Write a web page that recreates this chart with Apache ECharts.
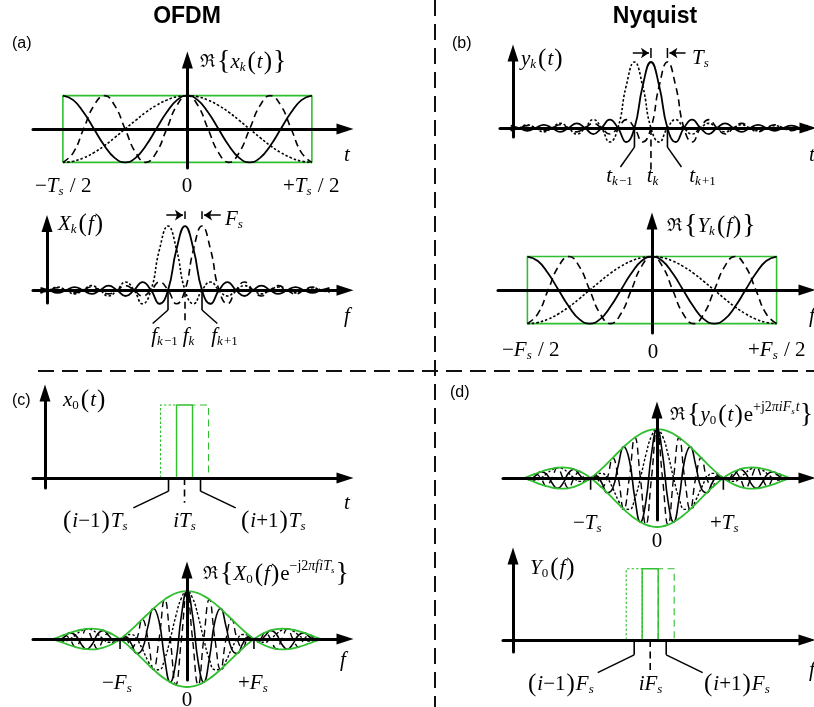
<!DOCTYPE html>
<html><head><meta charset="utf-8">
<script src="https://cdn.jsdelivr.net/npm/echarts@6.0.0/dist/echarts.min.js"></script>
<style>html,body{margin:0;padding:0;background:#fff}#c{width:814px;height:707px}</style>
</head><body><div id="c"></div>
<script>
// ---------------- DATA ----------------
// (a) top / (b) bottom : real parts over one symbol window, -1/2 .. +1/2
const cosT = [-0.5,-0.458,-0.417,-0.375,-0.333,-0.292,-0.25,-0.208,-0.167,-0.125,-0.083,-0.042,0,0.042,0.083,0.125,0.167,0.208,0.25,0.292,0.333,0.375,0.417,0.458,0.5];
const cosSlow = [-1,-0.966,-0.866,-0.707,-0.5,-0.259,0,0.259,0.5,0.707,0.866,0.966,1,0.966,0.866,0.707,0.5,0.259,0,-0.259,-0.5,-0.707,-0.866,-0.966,-1];
const cosMid  = [1,0.866,0.5,0,-0.5,-0.866,-1,-0.866,-0.5,0,0.5,0.866,1,0.866,0.5,0,-0.5,-0.866,-1,-0.866,-0.5,0,0.5,0.866,1];
const cosFast = [-1,-0.707,0,0.707,1,0.707,0,-0.707,-1,-0.707,0,0.707,1,0.707,0,-0.707,-1,-0.707,0,0.707,1,0.707,0,-0.707,-1];
const rectT = [-0.5, 0.5];
const rectAmp = [-1, 1];

// (a) bottom / (b) top : sinc pulses at k-1, k, k+1 (x in units of spacing)
const sincX = [-8.5,-8,-7.5,-7,-6.5,-6,-5.5,-5,-4.5,-4,-3.5,-3,-2.5,-2,-1.5,-1,-0.5,0,0.5,1,1.5,2,2.5,3,3.5,4,4.5,5,5.5,6,6.5,7,7.5,8,8.5,9,9.5];
const sincPrev = [-0.042,0,0.049,0,-0.058,0,0.071,0,-0.091,0,0.127,0,-0.212,0,0.637,1,0.637,0,-0.212,0,0.127,0,-0.091,0,0.071,0,-0.058,0,0.049,0,-0.042,0,0.037,0,-0.034,0,0.030];
const sincCur  = [0.037,0,-0.042,0,0.049,0,-0.058,0,0.071,0,-0.091,0,0.127,0,-0.212,0,0.637,1,0.637,0,-0.212,0,0.127,0,-0.091,0,0.071,0,-0.058,0,0.049,0,-0.042,0,0.037,0,-0.034];
const sincNext = [-0.034,0,0.037,0,-0.042,0,0.049,0,-0.058,0,0.071,0,-0.091,0,0.127,0,-0.212,0,0.637,1,0.637,0,-0.212,0,0.127,0,-0.091,0,0.071,0,-0.058,0,0.049,0,-0.042,0,0.037];
const tickCenters = [-1, 0, 1];

// (c) bottom / (d) top : envelope and modulated real parts, -2 .. +2
const envX = [-2,-1.917,-1.833,-1.75,-1.667,-1.583,-1.5,-1.417,-1.333,-1.25,-1.167,-1.083,-1,-0.917,-0.833,-0.75,-0.667,-0.583,-0.5,-0.417,-0.333,-0.25,-0.167,-0.083,0,0.083,0.167,0.25,0.333,0.417,0.5,0.583,0.667,0.75,0.833,0.917,1,1.083,1.167,1.25,1.333,1.417,1.5,1.583,1.667,1.75,1.833,1.917,2];
const envUpper = [0,-0.043,-0.087,-0.129,-0.165,-0.194,-0.212,-0.217,-0.207,-0.180,-0.136,-0.076,0,0.090,0.191,0.300,0.414,0.527,0.637,0.738,0.827,0.900,0.955,0.989,1,0.989,0.955,0.900,0.827,0.738,0.637,0.527,0.414,0.300,0.191,0.090,0,-0.076,-0.136,-0.180,-0.207,-0.217,-0.212,-0.194,-0.165,-0.129,-0.087,-0.043,0];
const envLower = [0,0.043,0.087,0.129,0.165,0.194,0.212,0.217,0.207,0.180,0.136,0.076,0,-0.090,-0.191,-0.300,-0.414,-0.527,-0.637,-0.738,-0.827,-0.900,-0.955,-0.989,-1,-0.989,-0.955,-0.900,-0.827,-0.738,-0.637,-0.527,-0.414,-0.300,-0.191,-0.090,0,0.076,0.136,0.180,0.207,0.217,0.212,0.194,0.165,0.129,0.087,0.043,0];
const carPrev = [0,-0.037,-0.043,0,0.083,0.168,0.212,0.188,0.103,0,-0.068,-0.066,0,0.078,0.096,0,-0.207,-0.456,-0.637,-0.639,-0.414,0,0.477,0.856,1,0.856,0.477,0,-0.414,-0.639,-0.637,-0.456,-0.207,0,0.096,0.078,0,-0.066,-0.068,0,0.103,0.188,0.212,0.168,0.083,0,-0.043,-0.037,0];
const carCur  = [0,-0.022,0.043,0.129,0.083,-0.097,-0.212,-0.109,0.103,0.180,0.068,-0.038,0,0.045,-0.096,-0.300,-0.207,0.264,0.637,0.369,-0.414,-0.900,-0.477,0.494,1,0.494,-0.477,-0.900,-0.414,0.369,0.637,0.264,-0.207,-0.300,-0.096,0.045,0,-0.038,0.068,0.180,0.103,-0.109,-0.212,-0.097,0.083,0.129,0.043,-0.022,0];
const carNext = [0,0,0.087,0,-0.165,0,0.212,0,-0.207,0,0.136,0,0,0,-0.191,0,0.414,0,-0.637,0,0.827,0,-0.955,0,1,0,-0.955,0,0.827,0,-0.637,0,0.414,0,-0.191,0,0,0,0.136,0,-0.207,0,0.212,0,-0.165,0,0.087,0,0];
const envTicks = [-1, 1];

// (c) top / (d) bottom : rectangular pulses
const pulseEdges = [-1.5, -0.5, 0.5, 1.5];
const pulseHeight = 1;

// ---------------- CHART ----------------
const BLACK = '#000', GREEN = '#2fbf2f';
const DOT = [2.5, 2], DASH = [7, 4.5];
const grids = [], xAxes = [], yAxes = [], series = [];
const pts = (xs, ys) => xs.map((x, i) => [x, ys[i]]);

function panel(rect, xr, yr, yOnZero, yOff) {
  const g = grids.length;
  grids.push({left: rect[0], top: rect[1], width: rect[2], height: rect[3], containLabel: false});
  const mk = (onZero) => ({onZero: onZero, lineStyle: {color: BLACK, width: 3}, symbol: ['none', 'triangle'], symbolSize: [11, 17]});
  const common = {axisTick: {show: false}, axisLabel: {show: false}, splitLine: {show: false}, z: 10};
  xAxes.push(Object.assign({gridIndex: g, type: 'value', min: xr[0], max: xr[1], axisLine: mk(true)}, common));
  yAxes.push(Object.assign({gridIndex: g, type: 'value', min: yr[0], max: yr[1], offset: yOff || 0, axisLine: mk(yOnZero)}, common));
  return g;
}
function line(g, data, color, width, type, smooth, z) {
  series.push({type: 'line', xAxisIndex: g, yAxisIndex: g, data: data, smooth: !!smooth, symbol: 'none',
    clip: false, silent: true, z: z || 3, lineStyle: {color: color, width: width, type: type || 'solid'}});
}
function cosPanel(g) {
  const t0 = rectT[0], t1 = rectT[1], a0 = rectAmp[0], a1 = rectAmp[1];
  line(g, [[t0, a0], [t0, a1], [t1, a1], [t1, a0], [t0, a0]], GREEN, 1.6);
  line(g, pts(cosT, cosSlow), BLACK, 1.6, DOT, true);
  line(g, pts(cosT, cosFast), BLACK, 1.6, DASH, true);
  line(g, pts(cosT, cosMid), BLACK, 1.8, 'solid', true);
}
function sincPanel(g, xMax, geo) {
  const keep = sincX.map((x, i) => i).filter(i => sincX[i] <= xMax);
  const sub = ys => keep.map(i => [sincX[i], ys[i]]);
  line(g, sub(sincPrev), BLACK, 1.6, DOT, true);
  line(g, sub(sincNext), BLACK, 1.6, DASH, true);
  line(g, sub(sincCur), BLACK, 1.8, 'solid', true);
  tickCenters.forEach(c => line(g, [[c, 0], [c, c === 0 ? geo.deepC : geo.deep]], BLACK, 1.6, c === 0 ? DASH : 'solid'));
  line(g, [[tickCenters[0], geo.deep], [tickCenters[0] - geo.lx, geo.ly]], BLACK, 1.5);
  line(g, [[tickCenters[2], geo.deep], [tickCenters[2] + geo.lx, geo.ly]], BLACK, 1.5);
  series.push({type: 'lines', coordinateSystem: 'cartesian2d', xAxisIndex: g, yAxisIndex: g, clip: false, silent: true, z: 5,
    symbol: ['none', 'arrow'], symbolSize: 8, lineStyle: {color: BLACK, width: 1.5, opacity: 1, curveness: 0},
    data: [{coords: [[-1.1, geo.ay], [-0.12, geo.ay]]}, {coords: [[2.1, geo.ay], [1.12, geo.ay]]}]});
  line(g, [[0, geo.b0], [0, geo.b1]], BLACK, 1.5);
  line(g, [[1, geo.b0], [1, geo.b1]], BLACK, 1.5);
}
function envPanel(g, depth) {
  line(g, pts(envX, carPrev), BLACK, 1.4, DOT, true);
  line(g, pts(envX, carNext), BLACK, 1.4, DASH, true);
  line(g, pts(envX, carCur), BLACK, 1.6, 'solid', true);
  line(g, pts(envX, envUpper), GREEN, 1.8, 'solid', true, 4);
  line(g, pts(envX, envLower), GREEN, 1.8, 'solid', true, 4);
  envTicks.forEach(c => line(g, [[c, 0], [c, depth]], BLACK, 1.6));
}
function pulsePanel(g, geo) {
  const styles = [DOT, 'solid', DASH];
  [0, 2, 1].forEach(j => {
    const a = pulseEdges[j], b = pulseEdges[j + 1], h = pulseHeight;
    line(g, [[a, 0], [a, h], [b, h], [b, 0]], GREEN, j === 1 ? 1.4 : 1.1, styles[j]);
  });
  tickCenters.forEach(c => line(g, [[c, 0], [c, c === 0 ? geo.deepC : geo.deep]], BLACK, 1.6, c === 0 ? DASH : 'solid'));
  line(g, [[tickCenters[0], geo.deep], [tickCenters[0] - geo.lx, geo.ly]], BLACK, 1.5);
  line(g, [[tickCenters[2], geo.deep], [tickCenters[2] + geo.lx, geo.ly]], BLACK, 1.5);
}

// panels
const gA1 = panel([33, 60, 312, 108], [-0.620, 0.633], [-1.17, 2.07], true, 0);
const gA2 = panel([33, 223.5, 312, 79.5], [-8.94, 9.41], [-0.2, 1.04], false, -14);
const gB1 = panel([500, 53, 308, 84], [-9.15, 9.52], [-0.136, 1.136], false, -13);
const gB2 = panel([498, 221, 309, 112], [-0.618, 0.622], [-1.28, 2.06], true, 0);
const gC1 = panel([33, 393, 312, 95], [-9.47, 10.03], [-0.137, 1.164], false, -12);
const gC2 = panel([33, 570, 312, 110], [-2.30, 2.36], [-0.854, 1.44], true, 0);
const gD1 = panel([503, 410, 304, 110], [-2.32, 2.26], [-0.857, 1.39], true, 0);
const gD2 = panel([503, 556, 304, 96], [-9.2, 9.8], [-0.17, 1.18], false, -10);

cosPanel(gA1);
cosPanel(gB2);
sincPanel(gA2, 8.5, {deep: -0.31, deepC: -0.47, lx: 0.9, ly: -0.52, ay: 1.17, b0: 1.11, b1: 1.23});
sincPanel(gB1, 9.5, {deep: -0.29, deepC: -0.64, lx: 0.85, ly: -0.59, ay: 1.136, b0: 1.06, b1: 1.21});
envPanel(gC2, -0.21);
envPanel(gD1, -0.24);
pulsePanel(gC1, {deep: -0.18, deepC: -0.34, lx: 2.2, ly: -0.41});
pulsePanel(gD2, {deep: -0.21, deepC: -0.45, lx: 2.28, ly: -0.46});

// ---------------- TEXT ----------------
const SERIF = '"Liberation Serif","DejaVu Serif",serif';
const SANS = '"Liberation Sans",Arial,sans-serif';
const RICH = {
  r:  {fontFamily: SERIF, fontSize: 21, fill: BLACK},
  p:  {fontFamily: SERIF, fontSize: 25, fill: BLACK, padding: [0, 1, 0, 1]},
  i:  {fontFamily: SERIF, fontSize: 21, fontStyle: 'italic', fill: BLACK},
  R:  {fontFamily: '"DejaVu Serif",serif', fontSize: 18, fill: BLACK, padding: [0, 2, 0, 0]},
  si: {fontFamily: SERIF, fontSize: 13, fontStyle: 'italic', fill: BLACK, padding: [12, 1, 0, 0]},
  sr: {fontFamily: SERIF, fontSize: 13, fill: BLACK, padding: [12, 1, 0, 0]},
  er: {fontFamily: SERIF, fontSize: 14, fill: BLACK, padding: [0, 0, 16, 0]},
  ei: {fontFamily: SERIF, fontSize: 14, fontStyle: 'italic', fill: BLACK, padding: [0, 0, 16, 0]},
  es: {fontFamily: SERIF, fontSize: 9, fontStyle: 'italic', fill: BLACK, padding: [0, 1, 7, 0]}
};
const texts = [];
function mtext(x, y, text, align) {
  texts.push({type: 'text', x: x, y: y, z: 100, silent: true,
    style: {text: text, rich: RICH, fontFamily: SERIF, fontSize: 28, fill: BLACK, align: align || 'left', verticalAlign: 'middle'}});
}
function stext(x, y, text, size, bold, align) {
  texts.push({type: 'text', x: x, y: y, z: 100, silent: true,
    style: {text: text, fontFamily: SANS, fontSize: size, fontWeight: bold ? 'bold' : 'normal', fill: BLACK, align: align || 'left', verticalAlign: 'middle'}});
}
stext(187, 17, 'OFDM', 23, true, 'center');
stext(655, 17, 'Nyquist', 23, true, 'center');
stext(12, 44, '(a)', 16);
stext(452, 44, '(b)', 16);
stext(12, 401, '(c)', 16);
stext(450, 393, '(d)', 16);

// (a)
mtext(200, 62, '{R|ℜ}{{i|x}{si|k}{p|(}{i|t}{p|)}}');
mtext(347, 155, '{i|t}', 'center');
mtext(35, 186, '{r|−}{i|T}{si|s}{r| / 2}');
mtext(187, 186, '{r|0}', 'center');
mtext(283, 186, '{r|+}{i|T}{si|s}{r| / 2}');
mtext(58, 224, '{i|X}{si|k}{p|(}{i|f}{p|)}');
mtext(225, 219, '{i|F}{si|s}');
mtext(347, 316, '{i|f}', 'center');
mtext(165, 336, '{i|f}{si|k}{sr|−1}', 'center');
mtext(189, 336, '{i|f}{si|k}', 'center');
mtext(225, 336, '{i|f}{si|k}{sr|+1}', 'center');
// (b)
mtext(521, 59, '{i|y}{si|k}{p|(}{i|t}{p|)}');
mtext(692, 58, '{i|T}{si|s}');
mtext(620, 176, '{i|t}{si|k}{sr|−1}', 'center');
mtext(653, 176, '{i|t}{si|k}', 'center');
mtext(703, 176, '{i|t}{si|k}{sr|+1}', 'center');
mtext(809, 155, '{i|t}');
mtext(667, 226, '{R|ℜ}{{i|Y}{si|k}{p|(}{i|f}{p|)}}');
mtext(809, 316, '{i|f}');
mtext(502, 350, '{r|−}{i|F}{si|s}{r| / 2}');
mtext(653, 352, '{r|0}', 'center');
mtext(748, 350, '{r|+}{i|F}{si|s}{r| / 2}');
// (c)
mtext(63, 400, '{i|x}{sr|0}{p|(}{i|t}{p|)}');
mtext(347, 503, '{i|t}', 'center');
mtext(62, 521, '{p|(}{i|i}{r|−1}{p|)}{i|T}{si|s}');
mtext(185, 521, '{i|iT}{si|s}', 'center');
mtext(240, 521, '{p|(}{i|i}{r|+1}{p|)}{i|T}{si|s}');
mtext(203, 574, '{R|ℜ}{{i|X}{sr|0}{p|(}{i|f}{p|)}{r|e}{er|−j2}{ei|πfiT}{es|s}}');
mtext(343, 660, '{i|f}', 'center');
mtext(102, 683, '{r|−}{i|F}{si|s}');
mtext(238, 683, '{r|+}{i|F}{si|s}');
mtext(187, 700, '{r|0}', 'center');
// (d)
mtext(670, 415, '{R|ℜ}{{i|y}{sr|0}{p|(}{i|t}{p|)}{r|e}{er|+j2}{ei|πiF}{es|s}{ei|t}}');
mtext(573, 523, '{r|−}{i|T}{si|s}');
mtext(710, 523, '{r|+}{i|T}{si|s}');
mtext(657, 541, '{r|0}', 'center');
mtext(530, 568, '{i|Y}{sr|0}{p|(}{i|f}{p|)}');
mtext(527, 684, '{p|(}{i|i}{r|−1}{p|)}{i|F}{si|s}');
mtext(651, 684, '{i|iF}{si|s}', 'center');
mtext(703, 684, '{p|(}{i|i}{r|+1}{p|)}{i|F}{si|s}');
mtext(809, 670, '{i|f}');

// dividers
texts.push({type: 'line', z: 50, silent: true, shape: {x1: 38, y1: 371, x2: 814, y2: 371}, style: {stroke: '#111', lineWidth: 2, lineDash: [16, 8]}});
texts.push({type: 'line', z: 50, silent: true, shape: {x1: 435, y1: 0, x2: 435, y2: 707}, style: {stroke: '#111', lineWidth: 2, lineDash: [16, 8]}});

const chart = echarts.init(document.getElementById('c'), null, {renderer: 'canvas'});
chart.setOption({
  animation: false,
  backgroundColor: '#fff',
  grid: grids, xAxis: xAxes, yAxis: yAxes, series: series,
  graphic: {elements: texts}
});
</script>
</body></html>
